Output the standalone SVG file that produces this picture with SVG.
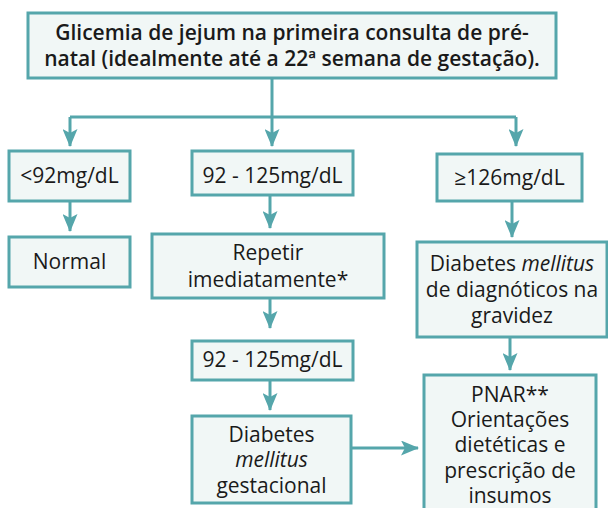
<svg xmlns="http://www.w3.org/2000/svg" width="608" height="508" viewBox="0 0 608 508">
<style>
.box{fill:#f1f7f6;stroke:#55a6ab;stroke-width:3}
.t{font-family:"Open Sans","Noto Sans",sans-serif;font-size:21px;fill:#1a1a1a;text-anchor:middle}
.h{font-family:"Open Sans","Noto Sans",sans-serif;font-size:21px;font-weight:600;fill:#1a1a1a;text-anchor:middle}
.c{fill:none;stroke:#55a6ab;stroke-width:3}
</style>
<defs>
<marker id="ah" markerUnits="userSpaceOnUse" viewBox="0 0 18 15" refX="17" refY="7.5" markerWidth="18" markerHeight="15" orient="auto">
<path d="M0,0 L18,7.5 L0,15 L4,7.5 z" fill="#55a6ab"/>
</marker>
</defs>
<g id="connectors">
<path class="c" d="M272,78 V117"/>
<path class="c" d="M70,117 H516"/>
<path class="c" d="M70,117 V146" marker-end="url(#ah)"/>
<path class="c" d="M272,117 V146" marker-end="url(#ah)"/>
<path class="c" d="M516,117 V146" marker-end="url(#ah)"/>
<path class="c" d="M70,201 V231" marker-end="url(#ah)"/>
<path class="c" d="M270,195 V228" marker-end="url(#ah)"/>
<path class="c" d="M512,201 V237" marker-end="url(#ah)"/>
<path class="c" d="M270,298 V328" marker-end="url(#ah)"/>
<path class="c" d="M270,380 V410" marker-end="url(#ah)"/>
<path class="c" d="M510,337 V370" marker-end="url(#ah)"/>
<path class="c" d="M351,448 H418" marker-end="url(#ah)"/>
</g>
<g id="n-top">
<rect class="box" x="28" y="13" width="528" height="65"/>
<text class="h" x="292" y="40">Glicemia de jejum na primeira consulta de pré-</text>
<text class="h" x="292" y="65.5">natal (idealmente até a 22ª semana de gestação).</text>
</g>
<g id="n-lt92">
<rect class="box" x="9" y="151" width="121" height="50"/>
<text class="t" x="69.5" y="183">&lt;92mg/dL</text>
</g>
<g id="n-92a">
<rect class="box" x="192" y="151" width="161" height="44"/>
<text class="t" x="272.5" y="183">92 - 125mg/dL</text>
</g>
<g id="n-ge126">
<rect class="box" x="437" y="154" width="145" height="47"/>
<text class="t" x="509.5" y="185">≥126mg/dL</text>
</g>
<g id="n-normal">
<rect class="box" x="9" y="237" width="121" height="50"/>
<text class="t" x="69.5" y="269">Normal</text>
</g>
<g id="n-repetir">
<rect class="box" x="152" y="234" width="232" height="64"/>
<text class="t" x="268" y="260">Repetir</text>
<text class="t" x="268" y="287">imediatamente*</text>
</g>
<g id="n-dm">
<rect class="box" x="417" y="242" width="190" height="95"/>
<text class="t" x="512" y="271">Diabetes <tspan font-style="italic">mellitus</tspan></text>
<text class="t" x="512" y="297">de diagnóticos na</text>
<text class="t" x="512" y="323">gravidez</text>
</g>
<g id="n-92b">
<rect class="box" x="192" y="341" width="161" height="39"/>
<text class="t" x="272.5" y="367">92 - 125mg/dL</text>
</g>
<g id="n-dmg">
<rect class="box" x="192" y="416" width="159" height="87"/>
<text class="t" x="271.5" y="442">Diabetes</text>
<text class="t" x="271.5" y="467" font-style="italic">mellitus</text>
<text class="t" x="271.5" y="493">gestacional</text>
</g>
<g id="n-pnar">
<rect class="box" x="424" y="375" width="172" height="140"/>
<text class="t" x="510" y="402">PNAR**</text>
<text class="t" x="510" y="427">Orientações</text>
<text class="t" x="510" y="452">dietéticas e</text>
<text class="t" x="510" y="478">prescrição de</text>
<text class="t" x="510" y="503">insumos</text>
</g>
</svg>
